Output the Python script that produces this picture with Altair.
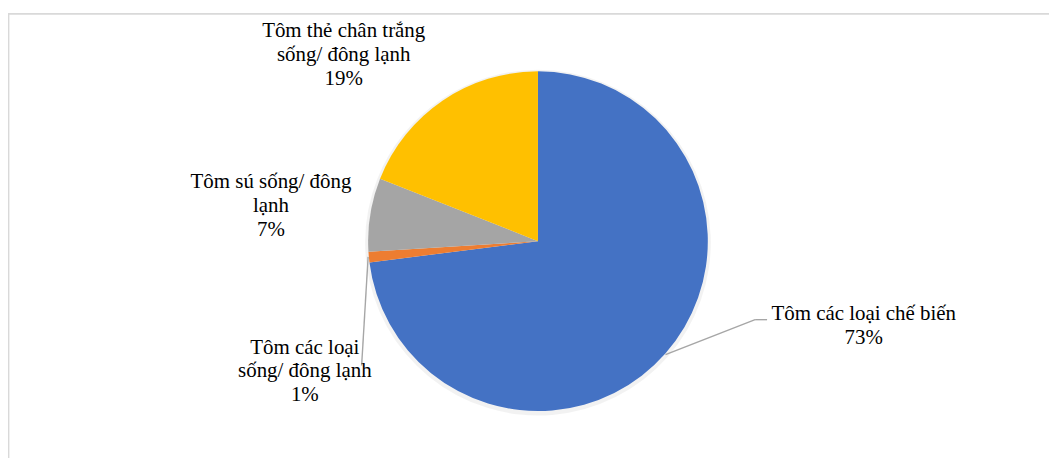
import altair as alt
import pandas as pd

# ---- data ----
categories = [
    "Tôm các loại chế biến",
    "Tôm các loại sống/ đông lạnh",
    "Tôm sú sống/ đông lạnh",
    "Tôm thẻ chân trắng sống/ đông lạnh",
]
shares = [73, 1, 7, 19]
colors = ["#4472C4", "#ED7D31", "#A5A5A5", "#FFC000"]
label_names = [
    "Tôm các loại chế biến",
    "Tôm các loại\nsống/ đông lạnh",
    "Tôm sú sống/ đông\nlạnh",
    "Tôm thẻ chân trắng\nsống/ đông lạnh",
]

# ---- layout / styling (kept apart from the data) ----
W, H = 1045, 450
CX, CY, R = 532, 233.2, 170.5
label_pos = [(859, 312), (298, 346), (264, 180), (337, 28)]
leader_segments = [
    (660, 347, 750, 312),
    (750, 312, 762, 312),
    (361.5, 249, 355, 358),
]
FONT = "Liberation Serif"
FS = 21

df = pd.DataFrame({
    "category": categories,
    "share": shares,
    "order": list(range(len(categories))),
})

labels = pd.DataFrame({
    "text": [f"{n}\n{s}%" for n, s in zip(label_names, shares)],
    "px": [p[0] for p in label_pos],
    "py": [p[1] for p in label_pos],
})

segs = pd.DataFrame(leader_segments, columns=["x", "y", "x2", "y2"])

border = alt.Chart(pd.DataFrame({"a": [0]})).mark_rect(
    fill=None, stroke="#D9D9D9", strokeWidth=1.6
).encode(
    x=alt.value(0.6), x2=alt.value(W + 20), y=alt.value(5), y2=alt.value(H + 20)
)

shadow = alt.Chart(df).mark_arc(color="#000000", opacity=0.05).encode(
    theta=alt.Theta("share:Q", stack=True),
    order=alt.Order("order:Q"),
    x=alt.value(CX), y=alt.value(CY + 1.5),
    radius=alt.value(R + 3),
)

pie = alt.Chart(df).mark_arc().encode(
    theta=alt.Theta("share:Q", stack=True),
    order=alt.Order("order:Q"),
    color=alt.Color("category:N", scale=alt.Scale(domain=categories, range=colors), legend=None),
    x=alt.value(CX), y=alt.value(CY),
    radius=alt.value(R),
)

leaders = alt.Chart(segs).mark_rule(color="#A6A6A6", strokeWidth=1.4).encode(
    x=alt.X("x:Q", scale=None), y=alt.Y("y:Q", scale=None),
    x2="x2:Q", y2="y2:Q",
)

text = alt.Chart(labels).mark_text(
    font=FONT, fontSize=FS, color="#000000", align="center", baseline="alphabetic",
    lineBreak="\n", lineHeight=24,
).encode(
    x=alt.X("px:Q", scale=None), y=alt.Y("py:Q", scale=None), text="text:N",
)

chart = alt.layer(border, shadow, pie, leaders, text).properties(
    width=W, height=H, padding=0, autosize=alt.AutoSizeParams(type="none"),
).configure_view(stroke=None)

chart.save("out.html", embed_options={"renderer": "svg", "actions": False})
